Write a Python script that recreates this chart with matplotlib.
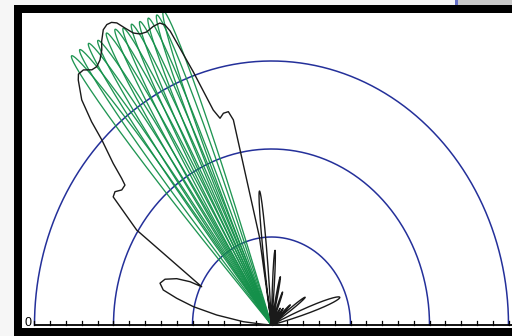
import numpy as np
import matplotlib
matplotlib.use("Agg")
import matplotlib.pyplot as plt
from matplotlib.patches import Rectangle

# ---- data (angles in degrees, radii in ring units) ----
ring_radii = [1, 2, 3]

# black pattern: main irregular part, from 180 deg down to the null near 98 deg
black_main_deg = [180, 177, 175.6, 174.0, 170.7, 168.1, 165.8, 163.8, 161.4, 158.9,
                  156.3, 154.5, 153.8, 147.7, 144.0, 142.6, 141.0, 139.4, 138.7, 137.5,
                  135.6, 134.6, 133.2, 131.3, 130.6, 129.4, 128.1, 127.0, 125.8, 124.5,
                  123.7, 122.4, 121.4, 120.5, 119.7, 118.8, 117.8, 116.7, 115.4, 113.8,
                  112.4, 111.6, 111.0, 109.0, 106.8, 105.5, 104.2, 102.7, 101.7, 100.6,
                  98.7, 98.3]
black_main_r = [0, 0, 0.104, 0.359, 0.703, 1.011, 1.238, 1.427, 1.489, 1.445,
                1.310, 1.143, 0.985, 2.019, 2.477, 2.494, 2.439, 2.443, 2.525, 2.718,
                3.006, 3.243, 3.509, 3.706, 3.755, 3.751, 3.685, 3.676, 3.712, 3.793,
                3.875, 3.974, 4.000, 3.991, 3.952, 3.851, 3.751, 3.702, 3.686, 3.709,
                3.711, 3.669, 3.577, 3.044, 2.552, 2.438, 2.482, 2.485, 2.380, 1.599,
                1.015, 0.0]

# black side lobes between 0 and 98 deg
side_deg = [95.7, 87.0, 78.5, 69.5, 60.0, 52.0, 44.0, 36.5, 20.0]
side_peak = [1.53, 0.85, 0.56, 0.40, 0.22, 0.24, 0.33, 0.53, 0.92]
side_halfwidth = [2.6, 2.3, 2.6, 2.8, 2.8, 2.8, 3.2, 3.8, 6.0]

# green steered beams
green_deg = [129.6, 127.8, 125.9, 124.2, 122.2, 120.5, 119.1, 117.4, 115.8, 114.1, 112.4, 111.0]
green_peak = [3.97, 3.96, 3.95, 3.91, 3.92, 3.90, 3.86, 3.85, 3.83, 3.82, 3.81, 3.82]
green_halfwidth = 2.4

tick_step = 0.2
axis_label = "0"

# ---- figure ----
W, H = 512, 336
fig = plt.figure(figsize=(W / 100, H / 100), dpi=100, facecolor="#f6f6f6")

# background axes for the slide frame
bg = fig.add_axes([0, 0, 1, 1], zorder=-10)
bg.set_xlim(0, W)
bg.set_ylim(H, 0)
bg.set_axis_off()
bg.add_patch(Rectangle((14, 4.7), W, H, facecolor="black", edgecolor="none"))
bg.add_patch(Rectangle((457, 0), W, 4.7, facecolor="#c9c9c9", edgecolor="none"))
bg.add_patch(Rectangle((455, 0), 3, 4.7, facecolor="#6670c8", edgecolor="none"))

# axes over the white area
x0_px, ux = 271.5, 79.0
y0_px, uy = 325.0, 88.0
left_px, right_px, top_px, bot_px = 22.0, 512.0, 12.7, 328.0
ax = fig.add_axes([left_px / W, (H - bot_px) / H, (right_px - left_px) / W, (bot_px - top_px) / H],
                  zorder=1)
ax.set_xlim((left_px - x0_px) / ux, (right_px - x0_px) / ux)
ax.set_ylim((y0_px - bot_px) / uy, (y0_px - top_px) / uy)
ax.set_axis_off()
ax.add_patch(Rectangle((0, 0), 1, 1, transform=ax.transAxes, facecolor="white",
                       edgecolor="none", zorder=-1))


def polar_xy(deg, r):
    th = np.deg2rad(np.asarray(deg, float))
    r = np.asarray(r, float)
    return r * np.cos(th), r * np.sin(th)


def lobe(phi, c, peak, hw, power=1.0):
    t = (phi - c) / hw
    base = np.cos(np.pi / 2 * np.clip(t, -1, 1))
    return np.where(np.abs(t) < 1, peak * np.clip(base, 0, None) ** power, 0.0)


# rings
ang = np.linspace(0, 180, 400)
for rr in ring_radii:
    x, y = polar_xy(ang, np.full_like(ang, rr))
    ax.plot(x, y, color="#24309a", lw=1.1, zorder=2)

# baseline and ticks
ax.plot([-3, 3.1], [0, 0], color="black", lw=1.3, zorder=3, solid_capstyle="butt")
ticks = np.round(np.arange(-3, 3.0001, tick_step), 3)
for t in ticks:
    ax.plot([t, t], [0, 0.042], color="black", lw=0.9, zorder=3)
ax.text(-3.04, -0.012, axis_label, ha="right", va="baseline", fontsize=9,
        family="Liberation Sans", color="black")

# green beams
for c, p in zip(green_deg, green_peak):
    phi = np.linspace(c - green_halfwidth, c + green_halfwidth, 400)
    x, y = polar_xy(phi, lobe(phi, c, p, green_halfwidth, power=0.5))
    ax.plot(x, y, color="#14904a", lw=0.95, zorder=4, alpha=0.95)

# black pattern
phi_side = np.linspace(98.3, 0, 3000)
r_side = np.zeros_like(phi_side)
for c, p, hw in zip(side_deg, side_peak, side_halfwidth):
    r_side += lobe(phi_side, c, p, hw)
deg_all = np.concatenate([black_main_deg, phi_side])
r_all = np.concatenate([black_main_r, r_side])
x, y = polar_xy(deg_all, r_all)
ax.plot(x, y, color="#1a1a1a", lw=1.0, zorder=5)

fig.savefig("out.png", dpi=100, facecolor=fig.get_facecolor())
